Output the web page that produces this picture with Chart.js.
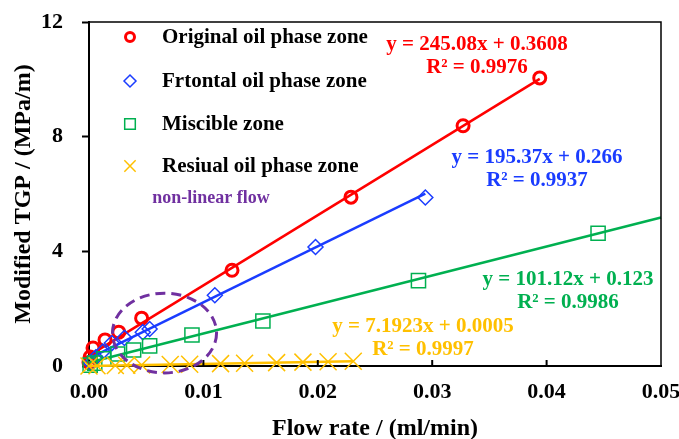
<!DOCTYPE html>
<html>
<head>
<meta charset="utf-8">
<script src="https://cdn.jsdelivr.net/npm/chart.js@4.4.0/dist/chart.umd.min.js"></script>
<style>
  html, body { margin: 0; padding: 0; background: #fff; }
</style>
</head>
<body>
<canvas id="tgpChart" width="679" height="439"></canvas>
<script>
// Data
const originalX = [0.0000, 0.0001, 0.00035, 0.0014, 0.0026, 0.0046, 0.0125, 0.0229, 0.0327, 0.0394];
const originalY = [0.12, 0.31, 0.63, 0.91, 1.18, 1.67, 3.34, 5.89, 8.38, 10.05];

const frontalX = [0.0002, 0.0006, 0.0012, 0.0020, 0.0031, 0.0047, 0.0053, 0.0110, 0.0198, 0.0294];
const frontalY = [0.10, 0.30, 0.50, 0.80, 0.98, 1.18, 1.29, 2.47, 4.15, 5.88];

const miscibleX = [0.0001, 0.0005, 0.0013, 0.0025, 0.0039, 0.0053, 0.0090, 0.0152, 0.0288, 0.0445];
const miscibleY = [0.03, 0.10, 0.25, 0.42, 0.56, 0.70, 1.08, 1.57, 2.98, 4.63];

const residualX = [0.0000, 0.0007, 0.0023, 0.0033, 0.0046, 0.0071, 0.0088, 0.0115, 0.0136, 0.0164, 0.0187, 0.0209, 0.0231];
const residualY = [0.000, 0.005, 0.017, 0.024, 0.033, 0.051, 0.063, 0.083, 0.098, 0.118, 0.135, 0.150, 0.166];

const seriesNames = ['Original oil phase zone', 'Frtontal oil phase zone', 'Miscible zone', 'Resiual oil phase zone'];
// linear fits shown on the figure: slope, intercept, last x of the drawn trendline
const fitSlopes = [245.08, 195.37, 101.12, 7.1923];
const fitIntercepts = [0.3608, 0.266, 0.123, 0.0005];
const fitEnds = [0.0394, 0.0294, 0.05, 0.0231];
const fitLabels = [
    ['y = 245.08x + 0.3608', 'R² = 0.9976'],
    ['y = 195.37x + 0.266', 'R² = 0.9937'],
    ['y = 101.12x + 0.123', 'R² = 0.9986'],
    ['y = 7.1923x + 0.0005', 'R² = 0.9997']
];

const xTicks = [0, 0.01, 0.02, 0.03, 0.04, 0.05];
const yTicks = [0, 4, 8, 12];

const colors = ['#ff0000', '#1a3cff', '#00b050', '#ffc000'];
const purple = '#7030a0';
const serif = '"Liberation Serif", "Times New Roman", serif';

const pts = (xs, ys) => xs.map((x, i) => ({ x: x, y: ys[i] }));

const pointStyles = ['circle', 'rectRot', 'rect', 'crossRot'];
const pointRadii = [6, 7.5, 10, 12];
const pointWidths = [3, 1.5, 1.5, 1.5];

const seriesData = [
    pts(originalX, originalY),
    pts(frontalX, frontalY),
    pts(miscibleX, miscibleY),
    pts(residualX, residualY)
];

const datasets = [];
seriesData.forEach((data, i) => {
    datasets.push({
        label: seriesNames[i],
        data: data,
        showLine: false,
        pointStyle: pointStyles[i],
        pointRadius: pointRadii[i],
        pointBorderWidth: pointWidths[i],
        borderColor: colors[i],
        backgroundColor: 'rgba(0,0,0,0)',
        clip: false,
        order: 10 - 2 * i
    });
    datasets.push({
        label: seriesNames[i] + ' fit',
        data: [
            { x: 0, y: fitIntercepts[i] },
            { x: fitEnds[i], y: fitSlopes[i] * fitEnds[i] + fitIntercepts[i] }
        ],
        showLine: true,
        pointRadius: 0,
        borderColor: colors[i],
        borderWidth: 2.5,
        clip: false,
        order: 11 - 2 * i
    });
});

// legend, equations, the dashed "non-linear flow" ring, frame and inward x ticks
const decorations = {
    id: 'decorations',
    afterDatasetsDraw(chart) {
        const ctx = chart.ctx;
        const area = chart.chartArea;
        const xs = chart.scales.x;
        const ys = chart.scales.y;
        ctx.save();

        // frame
        ctx.strokeStyle = '#000';
        ctx.lineWidth = 1.5;
        ctx.beginPath();
        ctx.moveTo(area.left, area.top);
        ctx.lineTo(area.right, area.top);
        ctx.lineTo(area.right, area.bottom);
        ctx.stroke();

        // inward x ticks
        ctx.lineWidth = 2;
        xTicks.slice(1, -1).forEach(v => {
            const px = xs.getPixelForValue(v);
            ctx.beginPath();
            ctx.moveTo(px, area.bottom);
            ctx.lineTo(px, area.bottom - 6);
            ctx.stroke();
        });

        // dashed ring
        const cx = xs.getPixelForValue(0.0066);
        const cy = ys.getPixelForValue(1.15);
        const rx = xs.getPixelForValue(0.0066 + 0.00455) - cx;
        const ry = cy - ys.getPixelForValue(1.15 + 1.39);
        ctx.strokeStyle = purple;
        ctx.lineWidth = 3;
        ctx.setLineDash([10, 6]);
        ctx.beginPath();
        ctx.ellipse(cx, cy, rx, ry, 0, 0, Math.PI * 2);
        ctx.stroke();
        ctx.setLineDash([]);

        ctx.fillStyle = purple;
        ctx.font = 'bold 18px ' + serif;
        ctx.textAlign = 'center';
        ctx.textBaseline = 'middle';
        ctx.fillText('non-linear flow', 211, 198);

        // legend
        const rows = [37, 81, 124, 166];
        const legendRadii = [4.5, 6, 7.5, 8];
        rows.forEach((ry0, i) => {
            ctx.strokeStyle = colors[i];
            ctx.fillStyle = 'rgba(0,0,0,0)';
            ctx.lineWidth = i === 0 ? 3 : 1.5;
            Chart.helpers.drawPoint(ctx, {
                pointStyle: pointStyles[i],
                rotation: 0,
                radius: legendRadii[i],
                borderWidth: ctx.lineWidth
            }, 130, ry0);
            ctx.fillStyle = '#000';
            ctx.font = 'bold 21px ' + serif;
            ctx.textAlign = 'left';
            ctx.fillText(seriesNames[i], 162, ry0 + 1);
        });

        // fit equations
        const eqPos = [[477, 45], [537, 158], [568, 280], [423, 327]];
        fitLabels.forEach((lines, i) => {
            ctx.fillStyle = colors[i];
            ctx.font = 'bold 21px ' + serif;
            ctx.textAlign = 'center';
            ctx.fillText(lines[0], eqPos[i][0], eqPos[i][1]);
            ctx.fillText(lines[1], eqPos[i][0], eqPos[i][1] + 23);
        });

        ctx.restore();
    }
};

new Chart(document.getElementById('tgpChart'), {
    type: 'scatter',
    data: { datasets: datasets },
    options: {
        responsive: false,
        animation: false,
        layout: { padding: { top: 22, right: 18, left: 0, bottom: 0 } },
        plugins: {
            legend: { display: false },
            tooltip: { enabled: false }
        },
        scales: {
            x: {
                type: 'linear',
                min: 0,
                max: 0.05,
                afterFit: s => {
                    s.height = 73;
                    s.paddingLeft = 0;
                    s.paddingRight = 0;
                },
                afterBuildTicks: s => { s.ticks = xTicks.map(v => ({ value: v })); },
                ticks: {
                    color: '#000',
                    padding: 13,
                    maxRotation: 0,
                    font: { family: serif, size: 22, weight: 'bold' },
                    callback: v => v.toFixed(2)
                },
                grid: { drawOnChartArea: false, drawTicks: false },
                border: { color: '#000', width: 2 },
                title: {
                    display: true,
                    text: 'Flow rate / (ml/min)',
                    color: '#000',
                    padding: 0,
                    font: { family: serif, size: 24, weight: 'bold', lineHeight: 0.85 }
                }
            },
            y: {
                min: 0,
                max: 12,
                afterFit: s => {
                    s.width = 89;
                    s.paddingTop = 0;
                    s.paddingBottom = 0;
                },
                afterBuildTicks: s => { s.ticks = yTicks.map(v => ({ value: v })); },
                ticks: {
                    color: '#000',
                    padding: 19,
                    font: { family: serif, size: 22, weight: 'bold' }
                },
                grid: { drawOnChartArea: false, drawTicks: true, tickLength: 7, tickColor: '#000', tickWidth: 2 },
                border: { color: '#000', width: 2 },
                title: {
                    display: true,
                    text: 'Modified TGP / (MPa/m)',
                    color: '#000',
                    padding: { top: 9, bottom: 0 },
                    font: { family: serif, size: 24, weight: 'bold', lineHeight: 1.2 }
                }
            }
        }
    },
    plugins: [decorations]
});
</script>
</body>
</html>
